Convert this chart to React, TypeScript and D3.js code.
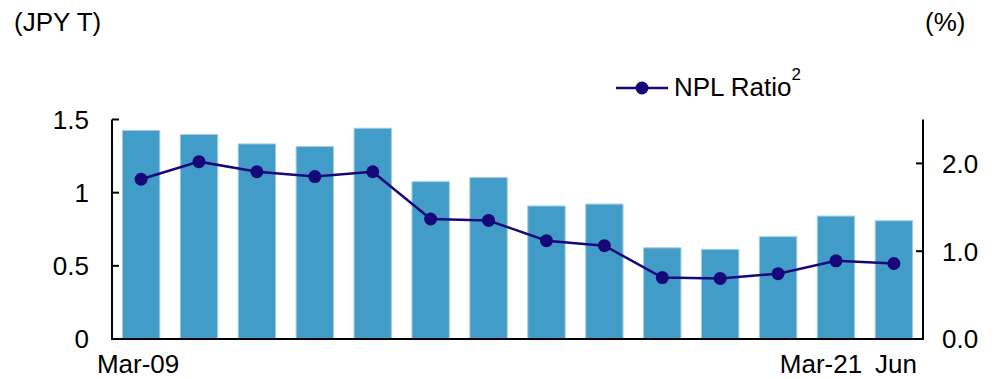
import React from "react";
import * as d3 from "d3";

// Fiscal period labels (March year-ends, last point June)
const periods = [
  "Mar-09", "Mar-10", "Mar-11", "Mar-12", "Mar-13", "Mar-14", "Mar-15",
  "Mar-16", "Mar-17", "Mar-18", "Mar-19", "Mar-20", "Mar-21", "Jun",
];
// Non-performing loans, JPY trillion (bars, left axis)
const nplAmount = [1.425, 1.397, 1.333, 1.315, 1.44, 1.075, 1.103, 0.909, 0.922, 0.623, 0.612, 0.699, 0.84, 0.808];
// NPL ratio, % (line, right axis)
const nplRatio = [1.82, 2.02, 1.905, 1.85, 1.905, 1.367, 1.35, 1.12, 1.063, 0.7, 0.69, 0.744, 0.89, 0.86];
// Axis ticks
const leftTicks = [0, 0.5, 1, 1.5];
const leftTickLabels = ["0", "0.5", "1", "1.5"];
const rightTicks = [0, 1, 2];
const rightTickLabels = ["0.0", "1.0", "2.0"];
// Category labels shown on the x-axis, with small horizontal nudges
const shownLabels: Record<string, number> = { "Mar-09": -3, "Mar-21": -15, Jun: 2 };

const W = 1003;
const H = 379;
const left = 112;
const right = 923;
const top = 119.5;
const bottom = 339;
const FONT = "Liberation Sans, Arial, sans-serif";
const FS = 26;
const BAR = "#429cc8";
const LINE = "#160878";

export default function App() {
  const x = d3.scaleBand<string>().domain(periods).range([left, right]).paddingInner(0.355).paddingOuter(0.18);
  const yL = d3.scaleLinear().domain([0, 1.5]).range([bottom, top]);
  const yR = d3.scaleLinear().domain([0, 2.5]).range([bottom, top]);
  const cx = (p: string) => (x(p) ?? 0) + x.bandwidth() / 2;

  const line = d3
    .line<number>()
    .x((_, i) => cx(periods[i]))
    .y((d) => yR(d));

  return (
    <svg
      width={W}
      height={H}
      style={{ position: "absolute", left: 0, top: 0, background: "#fff" }}
      fontFamily={FONT}
    >
      <text x={14} y={31} fontSize={FS} fill="#000">(JPY T)</text>
      <text x={925} y={31} fontSize={FS} fill="#000">(%)</text>

      {/* bars */}
      {nplAmount.map((v, i) => (
        <rect
          key={periods[i]}
          x={x(periods[i])}
          y={yL(v)}
          width={x.bandwidth()}
          height={yL(0) - yL(v)}
          fill={BAR}
          stroke="#9fcbe2"
          strokeWidth={1}
        />
      ))}

      {/* ratio line */}
      <path d={line(nplRatio) ?? ""} fill="none" stroke={LINE} strokeWidth={2.5} />
      {nplRatio.map((v, i) => (
        <circle key={periods[i]} cx={cx(periods[i])} cy={yR(v)} r={6.5} fill={LINE} />
      ))}

      {/* axes */}
      <line x1={left} x2={left} y1={top} y2={bottom} stroke="#000" strokeWidth={2} />
      <line x1={right} x2={right} y1={top} y2={bottom} stroke="#000" strokeWidth={2} />
      <line x1={left - 1} x2={right + 1} y1={bottom} y2={bottom} stroke="#000" strokeWidth={2} />

      {leftTicks.map((t, i) => (
        <g key={t}>
          <line x1={left} x2={left + 7} y1={yL(t)} y2={yL(t)} stroke="#000" strokeWidth={2} />
          <text x={89} y={yL(t)} dy="0.36em" textAnchor="end" fontSize={FS} fill="#000">
            {leftTickLabels[i]}
          </text>
        </g>
      ))}
      {rightTicks.map((t, i) => (
        <g key={t}>
          <line x1={right - 7} x2={right} y1={yR(t)} y2={yR(t)} stroke="#000" strokeWidth={2} />
          <text x={942} y={yR(t)} dy="0.36em" textAnchor="start" fontSize={FS} fill="#000">
            {rightTickLabels[i]}
          </text>
        </g>
      ))}

      {/* x labels */}
      {periods.map((p) =>
        p in shownLabels ? (
          <text key={p} x={cx(p) + shownLabels[p]} y={373} textAnchor="middle" fontSize={FS} fill="#000">
            {p}
          </text>
        ) : null
      )}

      {/* legend */}
      <line x1={616} x2={668} y1={88} y2={88} stroke={LINE} strokeWidth={2.5} />
      <circle cx={642} cy={88} r={6.5} fill={LINE} />
      <text x={674} y={96} fontSize={FS} fill="#000">
        NPL Ratio
        <tspan fontSize={17} dy={-16}>2</tspan>
      </text>
    </svg>
  );
}
